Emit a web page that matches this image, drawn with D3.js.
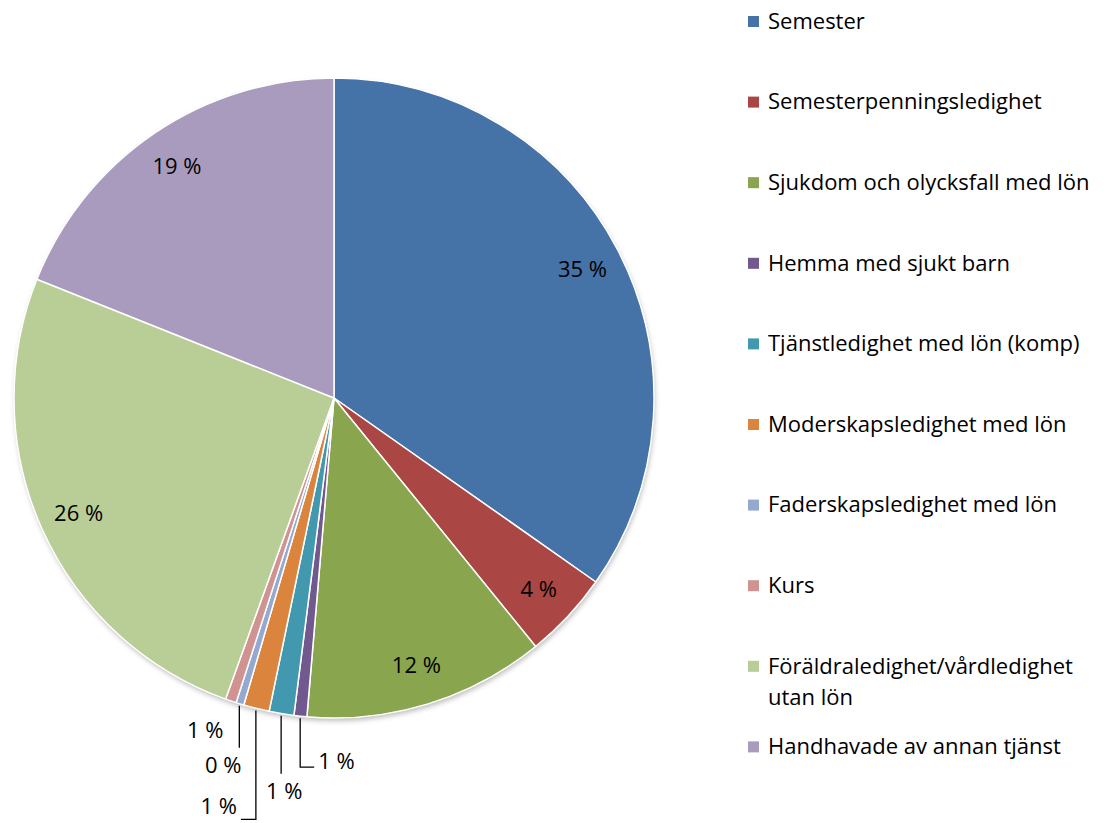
<!DOCTYPE html>
<html>
<head>
<meta charset="utf-8">
<script src="https://cdn.jsdelivr.net/npm/d3@7"></script>
<style>
  body { margin: 0; background: #fff; }
  svg { display: block; font-family: "Open Sans", "Noto Sans", sans-serif; }
</style>
</head>
<body>
<svg></svg>
<script>
// Categories and values (percent of total)
let categories = [
	"Semester",
	"Semesterpenningsledighet",
	"Sjukdom och olycksfall med lön",
	"Hemma med sjukt barn",
	"Tjänstledighet med lön (komp)",
	"Moderskapsledighet med lön",
	"Faderskapsledighet med lön",
	"Kurs",
	"Föräldraledighet/vårdledighet utan lön",
	"Handhavade av annan tjänst"
];
let values = [34.75, 4.4, 12.2, 0.65, 1.25, 1.3, 0.4, 0.55, 25.55, 18.95];
let colors = ["#4572A7", "#AA4643", "#89A54E", "#71588F", "#4198AF", "#DB843D", "#93A9CF", "#D19392", "#B9CD96", "#A99BBD"];

// Chart variables
let width = 1115;
let height = 823;
let cx = 334;
let cy = 398;
let radius = 320;
let labelRadius = 280;
let fontSize = 22;

let svg = d3.select("svg").attr("width", width).attr("height", height);

// Shadow
let defs = svg.append("defs");
let filter = defs.append("filter").attr("id", "shadow")
	.attr("x", "-10%").attr("y", "-10%").attr("width", "120%").attr("height", "120%");
filter.append("feDropShadow")
	.attr("dx", 1).attr("dy", 3).attr("stdDeviation", 2.5)
	.attr("flood-color", "#000").attr("flood-opacity", 0.25);

let data = categories.map((c, i) => ({ name: c, value: values[i], color: colors[i] }));

let pie = d3.pie().sort(null).value((d) => d.value);
let arcs = pie(data);

let arc = d3.arc().innerRadius(0).outerRadius(radius);
let labelArc = d3.arc().innerRadius(labelRadius).outerRadius(labelRadius);

let g = svg.append("g").attr("transform", "translate(" + cx + "," + cy + ")");

g.append("circle").attr("r", radius).attr("fill", "#fff").attr("filter", "url(#shadow)");

g.selectAll("path.slice")
	.data(arcs)
	.enter()
	.append("path")
	.attr("class", "slice")
	.attr("d", arc)
	.attr("fill", (d) => d.data.color)
	.attr("stroke", "#fff")
	.attr("stroke-width", 1.5)
	.attr("stroke-linejoin", "round");

let pct = (d) => Math.round(d.data.value) + " %";

// Big slices: labels inside
let inside = arcs.filter((d) => d.data.value >= 3);
g.selectAll("text.inside")
	.data(inside)
	.enter()
	.append("text")
	.attr("class", "inside")
	.attr("transform", (d) => "translate(" + labelArc.centroid(d) + ")")
	.attr("text-anchor", "middle")
	.attr("dy", "0.35em")
	.attr("font-size", fontSize)
	.attr("fill", "#000")
	.text(pct);

// Small slices: labels outside with leader lines
// down: leader length below arc, hook: horizontal part, tx/ty: text offset from leader end
let leaderLayout = {
	"Hemma med sjukt barn": { down: 49, hook: 14, tx: 4, ty: -6, anchor: "start" },
	"Tjänstledighet med lön (komp)": { down: 58, hook: 0, tx: 3, ty: 18, anchor: "middle" },
	"Moderskapsledighet med lön": { down: 109, hook: -15, tx: -4, ty: -13, anchor: "end" },
	"Faderskapsledighet med lön": { down: 42, hook: 0, tx: -16, ty: 18, anchor: "middle" },
	"Kurs": { down: 0, hook: 0, tx: -25, ty: 27, anchor: "middle", noLine: true }
};

let outside = arcs.filter((d) => d.data.value < 3);
outside.forEach((d) => {
	let lay = leaderLayout[d.data.name];
	let mid = (d.startAngle + d.endAngle) / 2;
	let x0 = Math.sin(mid) * (radius + 2);
	let y0 = -Math.cos(mid) * (radius + 2);
	let x1 = x0;
	let y1 = y0 + lay.down;
	let x2 = x1 + lay.hook;
	if (!lay.noLine) {
		g.append("path")
			.attr("d", d3.line()([[x0, y0], [x1, y1], [x2, y1]]))
			.attr("fill", "none")
			.attr("stroke", "#000")
			.attr("stroke-width", 1.3);
	}
	g.append("text")
		.attr("x", x2 + lay.tx)
		.attr("y", y1 + lay.ty)
		.attr("dy", "0.35em")
		.attr("text-anchor", lay.anchor)
		.attr("font-size", fontSize)
		.text(pct(d));
});

// Legend
let legendX = 748;
let legendY0 = 21;
let legendStep = 80.6;
let legend = svg.append("g");
data.forEach((d, i) => {
	let y = legendY0 + i * legendStep;
	legend.append("rect")
		.attr("x", legendX).attr("y", y - 5)
		.attr("width", 11).attr("height", 11)
		.attr("fill", d.color);
	let words = d.name === "Föräldraledighet/vårdledighet utan lön"
		? ["Föräldraledighet/vårdledighet", "utan lön"] : [d.name];
	let t = legend.append("text")
		.attr("x", legendX + 20).attr("y", y)
		.attr("font-size", fontSize)
		.attr("fill", "#000");
	words.forEach((w, j) => {
		t.append("tspan").attr("x", legendX + 20).attr("dy", j === 0 ? "0.35em" : 31).text(w);
	});
});
</script>
</body>
</html>
